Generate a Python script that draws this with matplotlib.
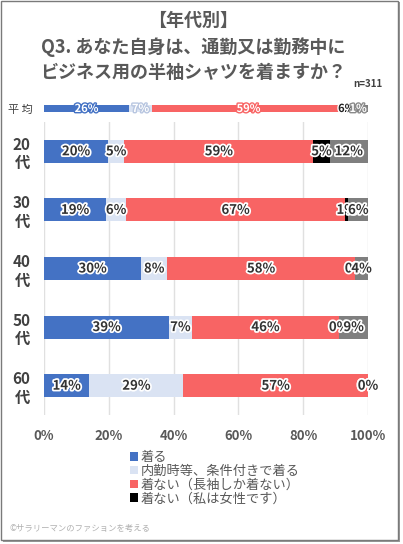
import matplotlib.pyplot as plt
import matplotlib.patches as mpatches
import matplotlib.patheffects as pe
import numpy as np

plt.rcParams['font.family'] = ['Noto Sans CJK JP', 'DejaVu Sans']

series = ['着る', '内勤時等、条件付きで着る', '着ない（長袖しか着ない）', '着ない（私は女性です）', 'その他']
colors = ['#4472C4', '#DAE3F3', '#F86464', '#000000', '#7F7F7F']

ages = ['20\n代', '30\n代', '40\n代', '50\n代', '60\n代']
age_values = [
    [20, 5, 59, 5, 12],
    [19, 6, 67, 1, 6],
    [30, 8, 58, 0, 4],
    [39, 7, 46, 0, 9],
    [14, 29, 57, 0, 0],
]
avg_values = [26, 7, 59, 1, 6]
avg_labels = ['26%', '7%', '59%', '6%', '1%']
xticks = [0, 20, 40, 60, 80, 100]

W, H = 403, 544
fig = plt.figure(figsize=(W / 100, H / 100), dpi=100)

def fx(px):
    return px / W

def fy(py):
    return 1 - py / H

# frame + shadow
fig.patches.append(mpatches.Rectangle((fx(3), fy(542)), fx(397), 540 / H, transform=fig.transFigure,
                                      facecolor='#9a9a9a', edgecolor='none', zorder=0))
fig.patches.append(mpatches.Rectangle((fx(1), fy(540)), fx(397), 539 / H, transform=fig.transFigure,
                                      facecolor='white', edgecolor='#7a7a7a', linewidth=1.0, zorder=1))

# main axes
ax = fig.add_axes([fx(44), fy(415), fx(368) - fx(44), (415 - 122) / H])
ax.set_zorder(3)
vals = np.array(age_values, dtype=float)
norm = vals / vals.sum(axis=1, keepdims=True) * 100
ypos = np.arange(len(ages))
left = np.zeros(len(ages))
handles = []
for j, name in enumerate(series):
    b = ax.barh(ypos, norm[:, j], left=left, height=0.39, color=colors[j], label=name, zorder=3)
    handles.append(b)
    for i in range(len(ages)):
        if j >= 3 and vals[i, j] == 0 and i < 2:
            continue
        cx = left[i] + norm[i, j] / 2
        ax.text(cx, ypos[i], '%d%%' % vals[i, j], ha='center', va='center', fontsize=9.5,
                fontweight='bold', color='#333333', zorder=5,
                path_effects=[pe.withStroke(linewidth=2.5, foreground='white')])
    left += norm[:, j]

ax.set_xlim(0, 100)
ax.set_ylim(len(ages) - 0.5, -0.5)
ax.set_yticks(ypos)
ax.set_yticklabels(ages, fontsize=11, fontweight='bold', color='#404040', linespacing=1.2)
ax.set_xticks(xticks)
ax.set_xticklabels(['%d%%' % t for t in xticks], fontsize=9.5, fontweight='bold', color='#595959')
ax.tick_params(length=0, pad=10)
ax.tick_params(axis='y', pad=10)
ax.grid(axis='x', color='#e0e0e0', linewidth=1, zorder=0)
for s in ax.spines.values():
    s.set_visible(False)
ax.set_facecolor('none')

# average bar
ax2 = fig.add_axes([fx(44), fy(114), fx(368) - fx(44), 11 / H])
ax2.set_zorder(4)
avals = np.array(avg_values, dtype=float)
anorm = avals / avals.sum() * 100
aleft = 0
for j in range(len(series)):
    ax2.barh(0, anorm[j], left=aleft, height=0.6, color=colors[j], zorder=3)
    cx = aleft + anorm[j] / 2
    tc = '#222222' if j == 3 else 'white'
    sc = 'white' if j == 3 else colors[j] if j != 1 else '#b8c6e0'
    if j == 4:
        sc = '#8a8a8a'
    ax2.text(cx, 0, avg_labels[j], ha='center', va='center', fontsize=8, fontweight='bold',
             color=tc, zorder=5, path_effects=[pe.withStroke(linewidth=2, foreground=sc)])
    aleft += anorm[j]
ax2.set_xlim(0, 100)
ax2.set_ylim(-0.5, 0.5)
ax2.set_xticks([])
ax2.set_yticks([0])
ax2.set_yticklabels(['平 均'], fontsize=8, color='#404040')
ax2.tick_params(length=0, pad=8)
for s in ax2.spines.values():
    s.set_visible(False)
ax2.set_facecolor('none')

# titles
fig.text(fx(193), fy(20), '【年代別】', ha='center', va='center', fontsize=13, fontweight='bold', color='#595959')
fig.text(fx(193), fy(47), 'Q3. あなた自身は、通勤又は勤務中に', ha='center', va='center', fontsize=13,
         fontweight='bold', color='#595959')
fig.text(fx(193), fy(72), 'ビジネス用の半袖シャツを着ますか？', ha='center', va='center', fontsize=13,
         fontweight='bold', color='#595959')
fig.text(fx(383), fy(84), 'n=311', ha='right', va='center', fontsize=7, fontweight='bold', color='#404040')

# legend
leg = fig.legend([handles[k] for k in range(4)], series[:4], loc='upper left',
                 bbox_to_anchor=(fx(125), fy(446)), frameon=False, fontsize=9.5,
                 handlelength=0.6, handleheight=0.6, handletextpad=0.2, labelspacing=0.05,
                 borderaxespad=0)
for t in leg.get_texts():
    t.set_color('#595959')

fig.text(fx(10), fy(528), '©サラリーマンのファションを考える', ha='left', va='center', fontsize=6, color='#b0b0b0')

fig.savefig('out.png', dpi=100)
